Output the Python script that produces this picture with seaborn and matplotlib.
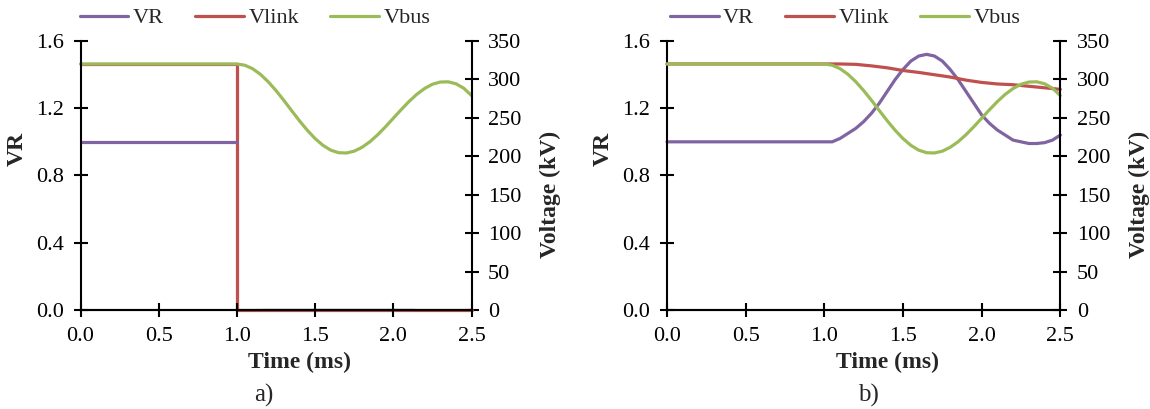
import numpy as np
import pandas as pd
import matplotlib.pyplot as plt
import seaborn as sns

# ==========================================
# Data
# ==========================================

# Vbus, same in both cases (kV)
t_bus = [0.0, 1.0, 1.05, 1.10, 1.15, 1.20, 1.25, 1.30, 1.35, 1.40, 1.45, 1.50,
         1.55, 1.60, 1.65, 1.70, 1.75, 1.80, 1.85, 1.90, 1.95, 2.00, 2.05,
         2.10, 2.15, 2.20, 2.25, 2.30, 2.35, 2.40, 2.45, 2.50]
v_bus = [320, 320, 318.4, 313.9, 306.6, 296.9, 285.4, 272.7, 259.3, 246.1,
         233.8, 223.0, 214.2, 207.9, 204.6, 204.2, 206.6, 211.6, 218.8, 227.9,
         238.3, 249.4, 260.5, 271.1, 280.5, 288.1, 293.6, 296.5, 296.8, 294.3,
         288.5, 279.0]

# case a) link tripped at 1.0 ms
t_link_a = [0.0, 1.0, 1.0, 2.5]
v_link_a = [320, 320, 0, 0]
t_vr_a1 = [0.0, 1.0]
vr_a1 = [1.0, 1.0]
t_vr_a2 = [1.17, 2.13]
vr_a2 = [0.0, 0.0]

# case b)
t_vr_b = [0.0, 1.0, 1.05, 1.10, 1.15, 1.20, 1.25, 1.30, 1.35, 1.40, 1.45, 1.50,
          1.55, 1.60, 1.65, 1.70, 1.75, 1.80, 1.85, 1.90, 1.95, 2.00, 2.05,
          2.10, 2.15, 2.20, 2.25, 2.30, 2.35, 2.40, 2.45, 2.50]
vr_b = [1.0, 1.0, 1.0, 1.02, 1.05, 1.08, 1.12, 1.17, 1.23, 1.30, 1.37, 1.43,
        1.48, 1.51, 1.52, 1.51, 1.48, 1.43, 1.37, 1.30, 1.23, 1.16, 1.11,
        1.07, 1.04, 1.01, 1.00, 0.99, 0.99, 0.995, 1.01, 1.04]
t_link_b = [0.0, 1.0, 1.1, 1.2, 1.3, 1.4, 1.5, 1.6, 1.7, 1.8, 1.9, 2.0, 2.1,
            2.2, 2.3, 2.4, 2.5]
v_link_b = [320, 320, 320, 319.5, 317.5, 315, 311.5, 309, 306, 303, 299, 296,
            294, 293, 291, 289, 287]

c_vr = "#8064A2"
c_link = "#C0504D"
c_bus = "#9BBB59"

sns.set_style("ticks")
plt.rcParams["font.family"] = ["Liberation Serif", "DejaVu Serif"]
plt.rcParams["font.size"] = 16

fig = plt.figure(figsize=(11.5, 4.09), dpi=100)

panels = [
    dict(pos=[0.070, 0.242, 0.340, 0.658], cap="a)", capx=0.229, leg=0.446),
    dict(pos=[0.580, 0.242, 0.342, 0.658], cap="b)", capx=0.755, leg=0.453),
]

lw = 2.3
line_kw = dict(estimator=None, sort=False, linewidth=lw, clip_on=False)

for i, p in enumerate(panels):
    ax = fig.add_axes(p["pos"])
    ax2 = ax.twinx()

    if i == 0:
        sns.lineplot(x=t_vr_a1, y=vr_a1, ax=ax, color=c_vr, label="VR", **line_kw)
        sns.lineplot(x=t_vr_a2, y=vr_a2, ax=ax, color=c_vr, linewidth=1.6,
                     estimator=None, sort=False, clip_on=False)
        sns.lineplot(x=t_link_a, y=v_link_a, ax=ax2, color=c_link, label="Vlink", **line_kw)
        # VR sits over the tripped link trace in panel a)
        ax.set_zorder(ax2.get_zorder() + 1)
        ax.patch.set_visible(False)
    else:
        sns.lineplot(x=t_vr_b, y=vr_b, ax=ax, color=c_vr, label="VR", **line_kw)
        sns.lineplot(x=t_link_b, y=v_link_b, ax=ax2, color=c_link, label="Vlink", **line_kw)
    sns.lineplot(x=t_bus, y=v_bus, ax=ax2, color=c_bus, label="Vbus", **line_kw)

    ax.set_xlim(0, 2.5)
    ax.set_ylim(0, 1.6)
    ax2.set_ylim(0, 350)
    ax.set_xticks(np.arange(0, 2.51, 0.5))
    ax.set_xticklabels([f"{v:.1f}" for v in np.arange(0, 2.51, 0.5)])
    ax.set_yticks(np.arange(0, 1.61, 0.4))
    ax.set_yticklabels([f"{v:.1f}" for v in np.arange(0, 1.61, 0.4)])
    ax2.set_yticks(np.arange(0, 351, 50))

    for a in (ax, ax2):
        a.spines["top"].set_visible(False)
        for s in ("left", "right", "bottom"):
            a.spines[s].set_linewidth(1.5)
            a.spines[s].set_color("black")
        a.tick_params(direction="inout", length=10, width=1.5, labelsize=16,
                      colors="black", pad=7)
        a.grid(False)
    ax2.spines["left"].set_visible(False)
    ax.spines["right"].set_visible(False)

    ax.set_xlabel("Time (ms)", fontweight="bold", fontsize=17)
    ax.xaxis.set_label_coords(0.56, -0.155)
    ax.set_ylabel("VR", fontweight="bold", fontsize=17)
    ax.yaxis.set_label_coords(-0.135, 0.60)
    ax2.set_ylabel("Voltage (kV)", fontweight="bold", fontsize=17)
    ax2.yaxis.set_label_coords(1.175, 0.43)

    h1, l1 = ax.get_legend_handles_labels()
    h2, l2 = ax2.get_legend_handles_labels()
    if ax.get_legend():
        ax.get_legend().remove()
    if ax2.get_legend():
        ax2.get_legend().remove()
    ax2.legend(h1 + h2, l1 + l2, loc="lower center", bbox_to_anchor=(p["leg"], 1.005),
               ncol=3, frameon=False, handlelength=2.2, columnspacing=1.4,
               handletextpad=0.2, fontsize=16, borderaxespad=0.1)

    fig.text(p["capx"], 0.034, p["cap"], ha="center", va="center", fontsize=18)

plt.savefig("out.png", dpi=100)
plt.close()
